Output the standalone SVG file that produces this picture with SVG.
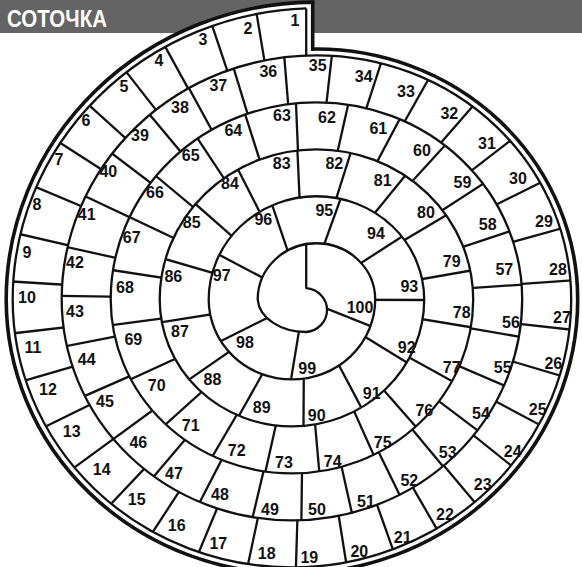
<svg xmlns="http://www.w3.org/2000/svg" width="582" height="567" viewBox="0 0 582 567">
<style>
.sp{fill:none;stroke:#111;stroke-width:2.3;vector-effect:non-scaling-stroke;stroke-linejoin:round}
.dv line{stroke:#111;stroke-width:2.3;vector-effect:non-scaling-stroke}
.out{fill:#fff;stroke:#111;stroke-width:3.6;vector-effect:non-scaling-stroke}
.lb text{font-family:"Liberation Sans",Arial,sans-serif;font-weight:700;font-size:16px;fill:#111;text-anchor:middle}
.ttl{font-family:"Liberation Sans",Arial,sans-serif;font-weight:700;font-size:23px;fill:#fff}
</style>
<defs>
<clipPath id="b0"><path clip-rule="evenodd" d="M2 -303.58A303.75 303.75 0 0 0 -291.5 0A279.25 279.25 0 0 0 267 0A254.75 254.75 0 0 0 2 -254.54Z M2 -254.54A254.75 254.75 0 0 0 -242.5 0A230.25 230.25 0 0 0 218 0A205.75 205.75 0 0 0 2 -205.49Z"/></clipPath>
<clipPath id="b1"><path clip-rule="evenodd" d="M2 -254.54A254.75 254.75 0 0 0 -242.5 0A230.25 230.25 0 0 0 218 0A205.75 205.75 0 0 0 2 -205.49Z M2 -205.49A205.75 205.75 0 0 0 -193.5 0A181.25 181.25 0 0 0 169 0A156.75 156.75 0 0 0 2 -156.41Z"/></clipPath>
<clipPath id="b2"><path clip-rule="evenodd" d="M2 -205.49A205.75 205.75 0 0 0 -193.5 0A181.25 181.25 0 0 0 169 0A156.75 156.75 0 0 0 2 -156.41Z M2 -156.41A156.75 156.75 0 0 0 -144.5 0A132.25 132.25 0 0 0 120 0A107.75 107.75 0 0 0 2 -107.26Z"/></clipPath>
<clipPath id="b3"><path clip-rule="evenodd" d="M2 -156.41A156.75 156.75 0 0 0 -144.5 0A132.25 132.25 0 0 0 120 0A107.75 107.75 0 0 0 2 -107.26Z M2 -107.26A107.75 107.75 0 0 0 -95.5 0A83.25 83.25 0 0 0 71 0A58.75 58.75 0 0 0 2 -57.85Z"/></clipPath>
<clipPath id="b4"><path clip-rule="evenodd" d="M2 -107.26A107.75 107.75 0 0 0 -95.5 0A83.25 83.25 0 0 0 71 0A58.75 58.75 0 0 0 2 -57.85Z M2 -57.85A58.75 58.75 0 0 0 -46.5 0A48.5 36 0 0 0 2 33.8A23 23 0 0 0 2 -12Z"/></clipPath>
</defs>
<rect width="582" height="567" fill="#fff"/>
<rect width="582" height="33" fill="#646464"/>
<text class="ttl" x="7" y="27" textLength="100" lengthAdjust="spacingAndGlyphs">СОТОЧКА</text>
<g id="board" transform="translate(304.2 299.6) scale(1 0.959)">
<path class="out" d="M8.5 -310.23A310.25 310.25 0 0 0 -298 0A285.75 285.75 0 0 0 273.5 0A261.25 261.25 0 0 0 8.5 -261.22Z"/>
<g id="connectors" class="dv">
<g clip-path="url(#b0)">
<line y2="-330" transform="rotate(-9.07)"/><line y2="-330" transform="rotate(-17.86)"/><line y2="-330" transform="rotate(-27.8)"/><line y2="-330" transform="rotate(-36.85)"/><line y2="-330" transform="rotate(-46.7)"/><line y2="-330" transform="rotate(-56.2)"/><line y2="-330" transform="rotate(-66.4)"/><line y2="-330" transform="rotate(-76.5)"/><line y2="-330" transform="rotate(-86.3)"/><line y2="-330" transform="rotate(-96.9)"/><line y2="-330" transform="rotate(-106.8)"/><line y2="-330" transform="rotate(-117.1)"/><line y2="-330" transform="rotate(-127.3)"/><line y2="-330" transform="rotate(-137.8)"/><line y2="-330" transform="rotate(-148)"/><line y2="-330" transform="rotate(-158.2)"/><line y2="-330" transform="rotate(-168.5)"/><line y2="-330" transform="rotate(-178.3)"/><line y2="-330" transform="rotate(-188.7)"/><line y2="-330" transform="rotate(-198.8)"/><line y2="-330" transform="rotate(-209)"/><line y2="-330" transform="rotate(-218.9)"/><line y2="-330" transform="rotate(-230.1)"/><line y2="-330" transform="rotate(-241)"/><line y2="-330" transform="rotate(-252.8)"/><line y2="-330" transform="rotate(-263.3)"/><line y2="-330" transform="rotate(-274.3)"/><line y2="-330" transform="rotate(-286.1)"/><line y2="-330" transform="rotate(-297.3)"/><line y2="-330" transform="rotate(-308.8)"/><line y2="-330" transform="rotate(-320.1)"/><line y2="-330" transform="rotate(-331.6)"/><line y2="-330" transform="rotate(-342.7)"/><line y2="-330" transform="rotate(-353.8)"/>
</g>
<g clip-path="url(#b1)">
<line y2="-330" transform="rotate(-4.5)"/><line y2="-330" transform="rotate(-16.3)"/><line y2="-330" transform="rotate(-27.6)"/><line y2="-330" transform="rotate(-38.7)"/><line y2="-330" transform="rotate(-51.6)"/><line y2="-330" transform="rotate(-63.8)"/><line y2="-330" transform="rotate(-77)"/><line y2="-330" transform="rotate(-89.1)"/><line y2="-330" transform="rotate(-101.5)"/><line y2="-330" transform="rotate(-114.6)"/><line y2="-330" transform="rotate(-127.3)"/><line y2="-330" transform="rotate(-140.8)"/><line y2="-330" transform="rotate(-153.7)"/><line y2="-330" transform="rotate(-167.2)"/><line y2="-330" transform="rotate(-179.3)"/><line y2="-330" transform="rotate(-192.1)"/><line y2="-330" transform="rotate(-205.1)"/><line y2="-330" transform="rotate(-218.6)"/><line y2="-330" transform="rotate(-231.8)"/><line y2="-330" transform="rotate(-245.9)"/><line y2="-330" transform="rotate(-259.8)"/><line y2="-330" transform="rotate(-274.1)"/><line y2="-330" transform="rotate(-289.1)"/><line y2="-330" transform="rotate(-304)"/><line y2="-330" transform="rotate(-318.8)"/><line y2="-330" transform="rotate(-333.1)"/><line y2="-330" transform="rotate(-347.8)"/>
</g>
<g clip-path="url(#b2)">
<line y2="-330" transform="rotate(-2.3)"/><line y2="-330" transform="rotate(-17)"/><line y2="-330" transform="rotate(-32.4)"/><line y2="-330" transform="rotate(-49)"/><line y2="-330" transform="rotate(-63.8)"/><line y2="-330" transform="rotate(-80.9)"/><line y2="-330" transform="rotate(-97.9)"/><line y2="-330" transform="rotate(-115.6)"/><line y2="-330" transform="rotate(-133.2)"/><line y2="-330" transform="rotate(-150.7)"/><line y2="-330" transform="rotate(-167.8)"/><line y2="-330" transform="rotate(-184.8)"/><line y2="-330" transform="rotate(-203.2)"/><line y2="-330" transform="rotate(-220.1)"/><line y2="-330" transform="rotate(-240.1)"/><line y2="-330" transform="rotate(-260.2)"/><line y2="-330" transform="rotate(-280.3)"/><line y2="-330" transform="rotate(-301.8)"/><line y2="-330" transform="rotate(-322)"/><line y2="-330" transform="rotate(-343.1)"/>
</g>
<g clip-path="url(#b3)">
<line y2="-330" transform="rotate(-2.5)"/><line y2="-330" transform="rotate(-26)"/><line y2="-330" transform="rotate(-47.5)"/><line y2="-330" transform="rotate(-73.1)"/><line y2="-330" transform="rotate(-99.4)"/><line y2="-330" transform="rotate(-125.9)"/><line y2="-330" transform="rotate(-151.7)"/><line y2="-330" transform="rotate(-179.7)"/><line y2="-330" transform="rotate(-206.9)"/><line y2="-330" transform="rotate(-237.4)"/><line y2="-330" transform="rotate(-269.8)"/><line y2="-330" transform="rotate(-303.9)"/><line y2="-330" transform="rotate(-340.9)"/>
</g>
<g clip-path="url(#b4)">
<line y2="-330" transform="rotate(-18)"/><line y2="-330" transform="rotate(-61.2)"/><line y2="-330" transform="rotate(-117.4)"/><line y2="-330" transform="rotate(-171)"/><line y2="-330" transform="rotate(-247.4)"/>
</g>
</g>
<path class="sp" d="M2 -303.58A303.75 303.75 0 0 0 -291.5 0A279.25 279.25 0 0 0 267 0A254.75 254.75 0 0 0 -242.5 0A230.25 230.25 0 0 0 218 0A205.75 205.75 0 0 0 -193.5 0A181.25 181.25 0 0 0 169 0A156.75 156.75 0 0 0 -144.5 0A132.25 132.25 0 0 0 120 0A107.75 107.75 0 0 0 -95.5 0A83.25 83.25 0 0 0 71 0A58.75 58.75 0 0 0 -46.5 0A48.5 36 0 0 0 2 33.8A23 23 0 0 0 2 -12L2 -57.85"/>
<path class="sp" d="M2 -303.58V-254.54"/>
</g>
<g id="labels" class="lb">
<text x="295" y="25.8">1</text><text x="248" y="33.8">2</text><text x="203" y="44.8">3</text><text x="159" y="65.8">4</text><text x="124" y="91.8">5</text><text x="86" y="125.8">6</text><text x="59" y="164.8">7</text><text x="37" y="209.8">8</text><text x="27" y="257.8">9</text><text x="27" y="302.8">10</text>
<text x="33" y="352.8">11</text><text x="48" y="395.3">12</text><text x="71.7" y="436.5">13</text><text x="101.7" y="474.5">14</text><text x="136.7" y="504.5">15</text><text x="176.7" y="530.5">16</text><text x="218.3" y="548.8">17</text><text x="266.7" y="558.8">18</text><text x="309.3" y="562.8">19</text><text x="359.3" y="557.1">20</text>
<text x="402.7" y="543.1">21</text><text x="445" y="519.8">22</text><text x="482.7" y="489.8">23</text><text x="512.7" y="457.1">24</text><text x="537.7" y="414.5">25</text><text x="553.3" y="369.1">26</text><text x="562" y="322.8">27</text><text x="558" y="274.5">28</text><text x="544" y="226.8">29</text><text x="518" y="184.1">30</text>
<text x="487" y="148.5">31</text><text x="449.3" y="119.1">32</text><text x="406" y="96.5">33</text><text x="363.7" y="81.8">34</text><text x="317.7" y="70.8">35</text><text x="268.3" y="76.5">36</text><text x="218.3" y="90.8">37</text><text x="180" y="113.1">38</text><text x="140" y="140.8">39</text><text x="108.3" y="176.5">40</text>
<text x="86.7" y="219.8">41</text><text x="75" y="268.1">42</text><text x="75" y="316.5">43</text><text x="86.7" y="364.8">44</text><text x="105" y="406.5">45</text><text x="138.3" y="447.8">46</text><text x="174" y="478.8">47</text><text x="220" y="499.8">48</text><text x="270" y="514.5">49</text><text x="317" y="514.5">50</text>
<text x="366" y="507.1">51</text><text x="409.3" y="485.5">52</text><text x="447.7" y="457.8">53</text><text x="481" y="418.8">54</text><text x="502.7" y="373.1">55</text><text x="511" y="328.1">56</text><text x="504.3" y="274.8">57</text><text x="487.7" y="229.8">58</text><text x="462.5" y="187.8">59</text><text x="422" y="155.8">60</text>
<text x="378.3" y="134.1">61</text><text x="327" y="122.5">62</text><text x="282" y="120.8">63</text><text x="233.3" y="135.8">64</text><text x="190.7" y="160.8">65</text><text x="155" y="198.3">66</text><text x="131.7" y="243.1">67</text><text x="125" y="293.1">68</text><text x="133.3" y="344.8">69</text><text x="156.7" y="390.5">70</text>
<text x="190.7" y="430.5">71</text><text x="236.7" y="455.5">72</text><text x="284" y="468.1">73</text><text x="332.7" y="467.1">74</text><text x="382.7" y="447.8">75</text><text x="424.3" y="415.5">76</text><text x="451.7" y="372.5">77</text><text x="461.7" y="317.5">78</text><text x="451.7" y="266.5">79</text><text x="426" y="218.1">80</text>
<text x="382.7" y="185.8">81</text><text x="334.3" y="169.1">82</text><text x="281.7" y="169.1">83</text><text x="230" y="188.5">84</text><text x="191.7" y="228.1">85</text><text x="173.3" y="282.1">86</text><text x="180" y="336.5">87</text><text x="212.5" y="384.8">88</text><text x="261.7" y="413.1">89</text><text x="316.7" y="420.8">90</text>
<text x="371.7" y="399.1">91</text><text x="406.7" y="352.5">92</text><text x="409.3" y="291.5">93</text><text x="376" y="238.8">94</text><text x="324.3" y="215.5">95</text><text x="263.3" y="224.8">96</text><text x="221.7" y="280.8">97</text><text x="245" y="347.5">98</text><text x="307.2" y="373.6">99</text><text x="360" y="312.5">100</text>
</g>
</svg>
